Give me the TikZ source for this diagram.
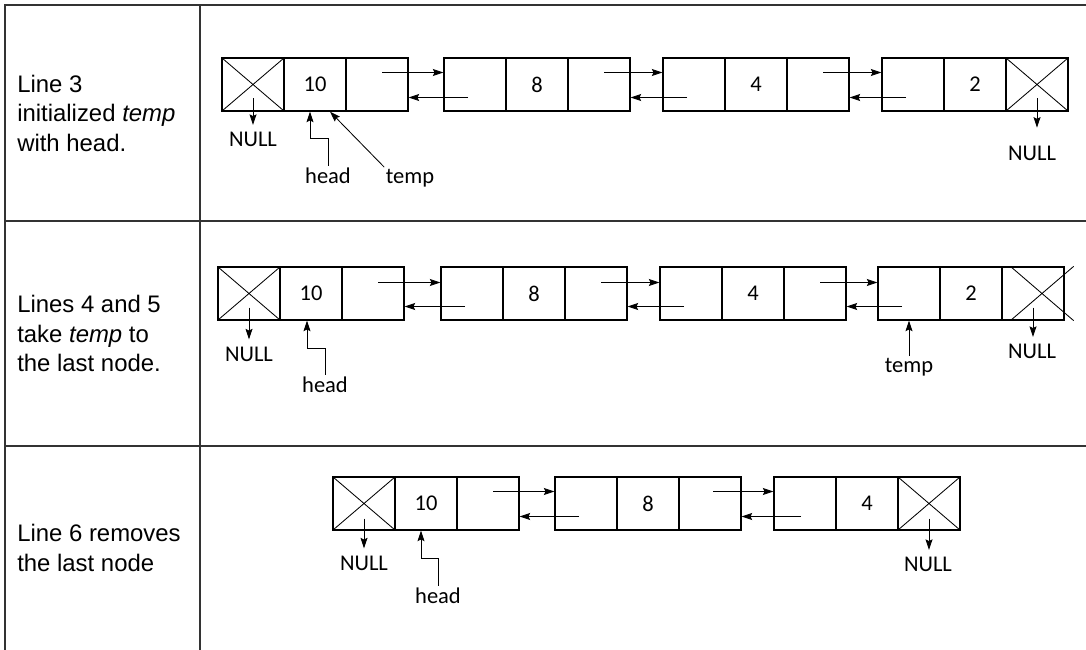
\documentclass[tikz,border=0pt]{standalone}
\usepackage{fontspec}
\setmainfont{Carlito}
\newfontfamily\rowfont{Liberation Sans}
\usetikzlibrary{arrows.meta, calc}
\definecolor{cGrid}{RGB}{51,51,51}
\tikzset{
	cell/.style     ={rectangle, draw=black, line width=0.9pt, minimum width=1.55cm, minimum height=1.325cm, inner sep=0pt, font=\fontsize{16}{19}\selectfont},
	nullcell/.style ={cell, path picture={\draw[line width=0.6pt] (path picture bounding box.north west) -- (path picture bounding box.south east) (path picture bounding box.south west) -- (path picture bounding box.north east);}},
	lbl/.style      ={inner sep=1pt, font=\fontsize{16}{19}\selectfont},
	ptr/.style      ={-{Stealth[length=7.5pt, width=5pt, inset=1.2pt]}, line width=0.6pt},
	nullptr/.style  ={ptr, shorten >=4pt},
	tableline/.style={cGrid, line width=1.3pt},
	rowtext/.style  ={anchor=west, align=left, inner sep=0pt, font=\rowfont\fontsize{17}{21}\selectfont},
}
\begin{document}
\begin{tikzpicture}[x=0.025cm, y=-0.025cm]
	\useasboundingbox (0,0) rectangle (1086,650);
	% table
	\draw[tableline] (1086,5) -- (5,5) -- (5,650);
	\draw[tableline] (200,5) -- (200,650);
	\draw[tableline] (5,221) -- (1086,221);
	\draw[tableline] (5,446) -- (1086,446);
	\node[rowtext] (txtA) at (17,113) {Line 3\\initialized \textit{temp}\\with head.};
	\node[rowtext] (txtB) at (17,333.5) {Lines 4 and 5\\take \textit{temp} to\\the last node.};
	\node[rowtext] (txtC) at (17,548) {Line 6 removes\\the last node};
	% row 1
	\node[nullcell] (A10p) at (253,84.5) {};
	\node[cell] (A10v) at (315,84.5) {10};
	\node[cell] (A10n) at (377,84.5) {};
	\node[cell] (A8p) at (475,84.5) {};
	\node[cell] (A8v) at (537,84.5) {8};
	\node[cell] (A8n) at (599,84.5) {};
	\node[cell] (A4p) at (694,84.5) {};
	\node[cell] (A4v) at (756,84.5) {4};
	\node[cell] (A4n) at (818,84.5) {};
	\node[cell] (A2p) at (913,84.5) {};
	\node[cell] (A2v) at (975,84.5) {2};
	\node[nullcell] (A2n) at (1037,84.5) {};
	\draw[ptr] ($(A10n.center)+(5,-12)$) -- ($(A8p.west)+(0,-12)$);
	\draw[ptr] ($(A8p.center)+(-7,13)$) -- ($(A10n.east)+(0,13)$);
	\draw[ptr] ($(A8n.center)+(5,-12)$) -- ($(A4p.west)+(0,-12)$);
	\draw[ptr] ($(A4p.center)+(-7,13)$) -- ($(A8n.east)+(0,13)$);
	\draw[ptr] ($(A4n.center)+(5,-12)$) -- ($(A2p.west)+(0,-12)$);
	\draw[ptr] ($(A2p.center)+(-7,13)$) -- ($(A4n.east)+(0,13)$);
	\node[lbl] (nullA1) at (253,139.5) {NULL};
	\node[lbl] (nullA2) at (1032,153.5) {NULL};
	\node[lbl, anchor=base] (headA) at (328,183) {head};
	\node[lbl, anchor=base] (tempA) at (410,183) {temp};
	\draw[nullptr] ($(A10p.center)+(0,14)$) -- (A10p.center |- nullA1.north);
	\draw[nullptr, shorten >=12pt] ($(A2n.center)+(0,14)$) -- (A2n.center |- nullA2.north);
	\draw[ptr] (headA.north) |- ($(A10v.south)+(-5,27)$) -- ($(A10v.south)+(-5,0)$);
	\draw[ptr] (tempA.north west) -- ($(A10v.south)+(15,0)$);
	% row 2
	\node[nullcell] (B10p) at (249,293.5) {};
	\node[cell] (B10v) at (311,293.5) {10};
	\node[cell] (B10n) at (373,293.5) {};
	\node[cell] (B8p) at (472,293.5) {};
	\node[cell] (B8v) at (534,293.5) {8};
	\node[cell] (B8n) at (596,293.5) {};
	\node[cell] (B4p) at (691,293.5) {};
	\node[cell] (B4v) at (753,293.5) {4};
	\node[cell] (B4n) at (815,293.5) {};
	\node[cell] (B2p) at (909,293.5) {};
	\node[cell] (B2v) at (971,293.5) {2};
	\node[cell] (B2n) at (1033,293.5) {};
	\draw[line width=0.6pt] ($(B2n.north west)+(9,0)$) -- ($(B2n.south east)+(9,0)$) ($(B2n.south west)+(9,0)$) -- ($(B2n.north east)+(9,0)$);
	\draw[ptr] ($(B10n.center)+(5,-11)$) -- ($(B8p.west)+(0,-11)$);
	\draw[ptr] ($(B8p.center)+(-7,13)$) -- ($(B10n.east)+(0,13)$);
	\draw[ptr] ($(B8n.center)+(5,-11)$) -- ($(B4p.west)+(0,-11)$);
	\draw[ptr] ($(B4p.center)+(-7,13)$) -- ($(B8n.east)+(0,13)$);
	\draw[ptr] ($(B4n.center)+(5,-11)$) -- ($(B2p.west)+(0,-11)$);
	\draw[ptr] ($(B2p.center)+(-7,13)$) -- ($(B4n.east)+(0,13)$);
	\node[lbl] (nullB1) at (249,354) {NULL};
	\node[lbl] (nullB2) at (1032,351.5) {NULL};
	\node[lbl, anchor=base] (headB) at (325,392) {head};
	\node[lbl, anchor=base] (tempB) at (909,372) {temp};
	\draw[nullptr] ($(B10p.center)+(0,14)$) -- (B10p.center |- nullB1.north);
	\draw[nullptr] ($(B2n.center)+(0,14)$) -- (B2n.center |- nullB2.north);
	\draw[ptr] (headB.north) |- ($(B10v.south)+(-4,28)$) -- ($(B10v.south)+(-4,0)$);
	\draw[ptr] (tempB.north) -- (B2p.south);
	% row 3
	\node[nullcell] (C10p) at (364,503.5) {};
	\node[cell] (C10v) at (426,503.5) {10};
	\node[cell] (C10n) at (488,503.5) {};
	\node[cell] (C8p) at (586,503.5) {};
	\node[cell] (C8v) at (648,503.5) {8};
	\node[cell] (C8n) at (710,503.5) {};
	\node[cell] (C4p) at (805,503.5) {};
	\node[cell] (C4v) at (867,503.5) {4};
	\node[nullcell] (C4n) at (929,503.5) {};
	\draw[ptr] ($(C10n.center)+(5,-12)$) -- ($(C8p.west)+(0,-12)$);
	\draw[ptr] ($(C8p.center)+(-7,13)$) -- ($(C10n.east)+(0,13)$);
	\draw[ptr] ($(C8n.center)+(3,-12)$) -- ($(C4p.west)+(0,-12)$);
	\draw[ptr] ($(C4p.center)+(-4,13)$) -- ($(C8n.east)+(0,13)$);
	\node[lbl] (nullC1) at (364,563) {NULL};
	\node[lbl] (nullC2) at (928,564.5) {NULL};
	\node[lbl, anchor=base] (headC) at (438,603) {head};
	\draw[nullptr] ($(C10p.center)+(0,15)$) -- (C10p.center |- nullC1.north);
	\draw[nullptr] ($(C4n.center)+(0,15)$) -- (C4n.center |- nullC2.north);
	\draw[ptr] (headC.north) |- ($(C10v.south)+(-5,28)$) -- ($(C10v.south)+(-5,0)$);
\end{tikzpicture}
\end{document}
